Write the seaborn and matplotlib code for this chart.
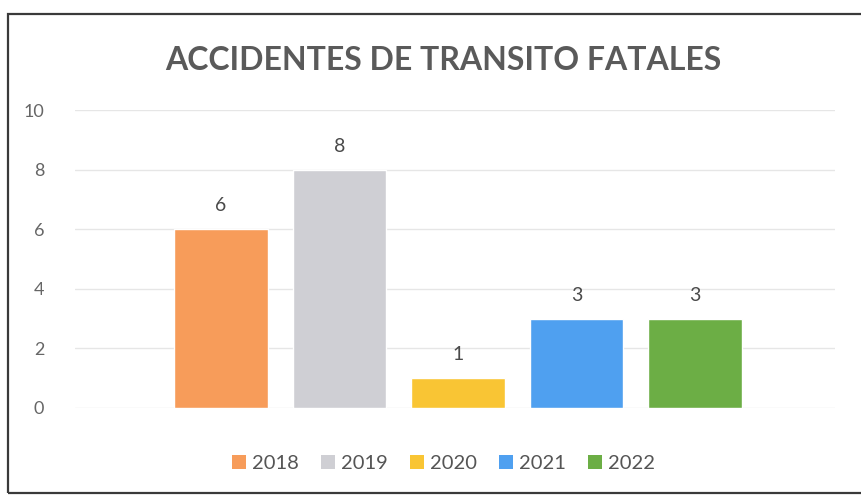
import pandas as pd
import seaborn as sns
import matplotlib.pyplot as plt
from matplotlib.patches import Patch, Rectangle

years = ['2018', '2019', '2020', '2021', '2022']
accidents = [6, 8, 1, 3, 3]
bar_colors = ['#F79C5A', '#CFCFD4', '#F9C534', '#4FA0F0', '#6CAE45']

df = pd.DataFrame({'Year': years, 'Accidents': accidents})

sns.set_theme(style='white')
plt.rcParams['font.family'] = ['Lato', 'DejaVu Sans']

fig = plt.figure(figsize=(8.61, 5.01), dpi=100)
ax = fig.add_axes([0.087, 0.186, 0.883, 0.594])

sns.barplot(data=df, x='Year', y='Accidents', hue='Year', palette=bar_colors,
            width=0.79, legend=False, ax=ax, saturation=1)

# value labels above bars
for i, v in enumerate(accidents):
    ax.text(i, v + 0.5, str(v), ha='center', va='bottom', fontsize=14, color='#4a4a4a')

ax.set_ylim(0, 10)
ax.set_xlim(-1.23, 5.18)
ax.set_yticks(range(0, 11, 2))
ax.yaxis.grid(True, color='#e6e6e6', linewidth=1)
ax.set_axisbelow(True)
ax.set_xticks([])
ax.set_xlabel('')
ax.set_ylabel('')
ax.tick_params(axis='y', labelsize=13, labelcolor='#666666', pad=22, length=0)
for s in ax.spines.values():
    s.set_visible(False)

fig.text(0.515, 0.88, 'ACCIDENTES DE TRANSITO FATALES', ha='center', va='center',
         fontsize=23, fontweight='bold', color='#5a5a5a')

handles = [Patch(facecolor=c, edgecolor='none') for c in bar_colors]
fig.legend(handles, years, loc='center', bbox_to_anchor=(0.515, 0.075), ncol=5,
           frameon=False, fontsize=14.5, handlelength=0.7, handleheight=0.7,
           handletextpad=0.3, columnspacing=1.1, labelcolor='#555555')

# chart border
fig.patches.append(Rectangle((0.009, 0.016), 1.2, 0.956, transform=fig.transFigure,
                             fill=False, edgecolor='#3a3a3a', linewidth=1.6))

fig.savefig('out.png', dpi=100)
